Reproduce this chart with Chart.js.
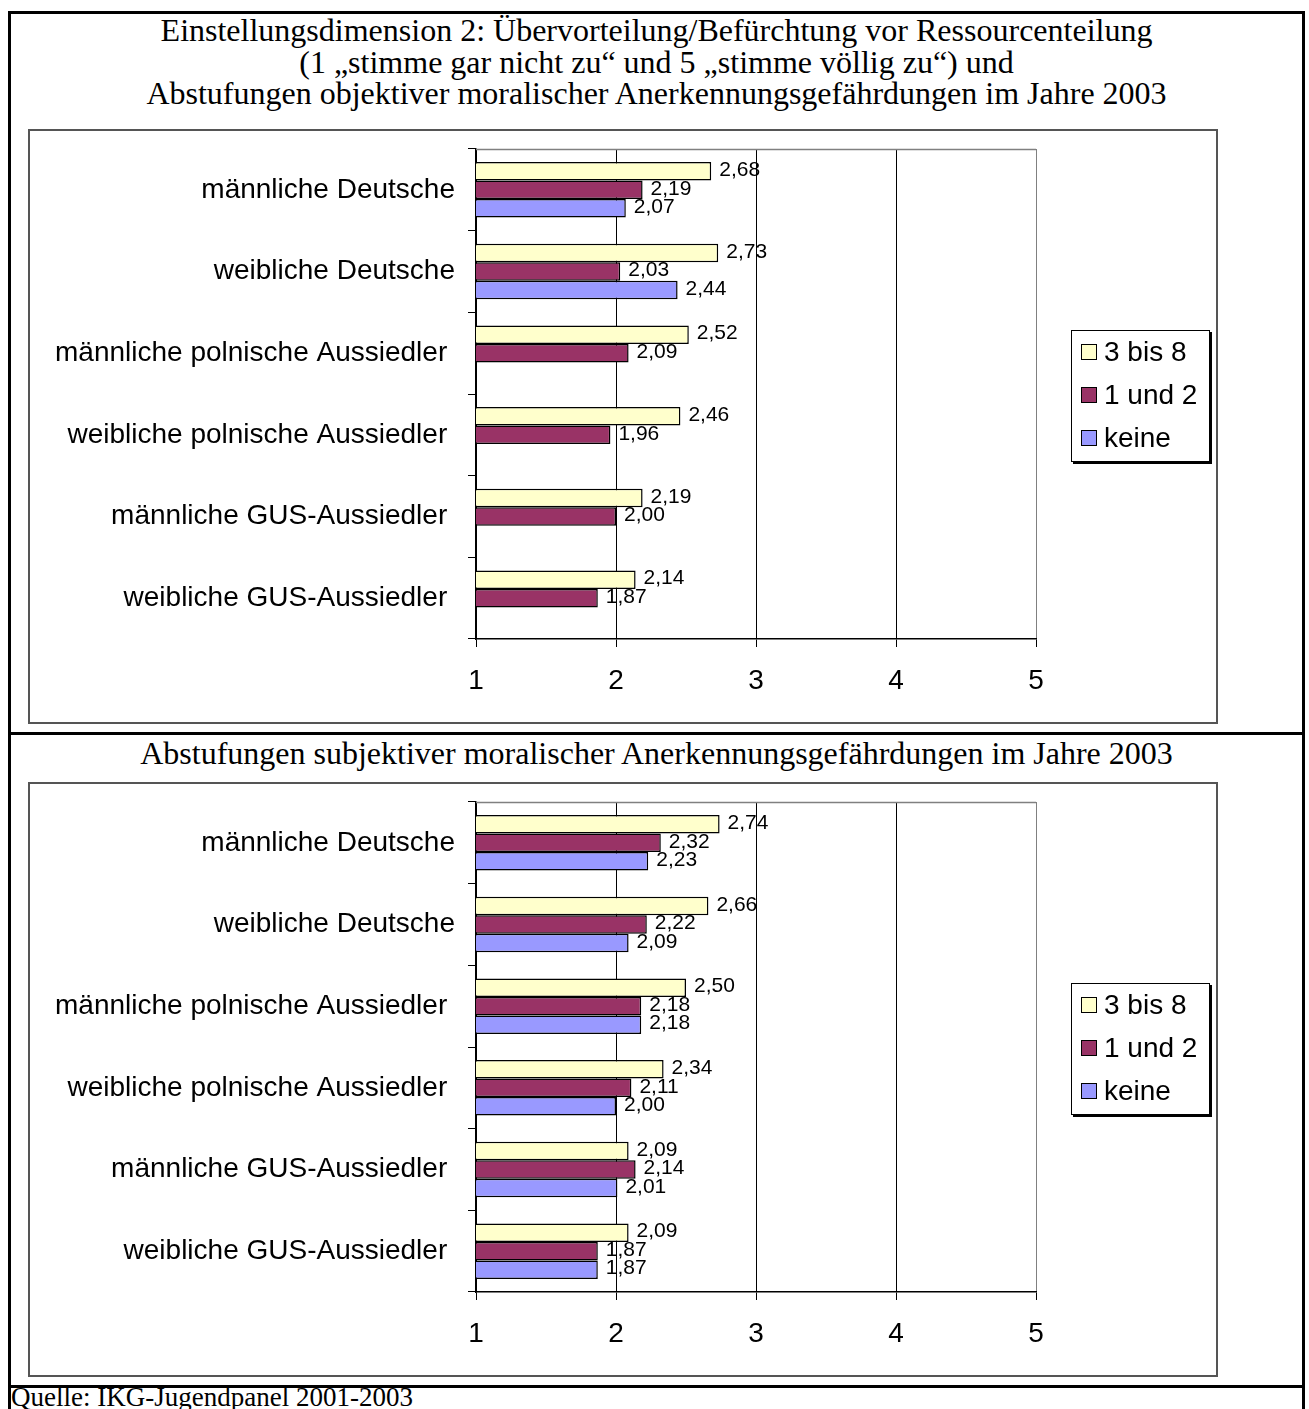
<!DOCTYPE html>
<html>
<head>
<meta charset="utf-8">
<script src="https://cdn.jsdelivr.net/npm/chart.js@4/dist/chart.umd.min.js"></script>
<style>
  html, body { margin: 0; padding: 0; background: #fff; width: 1309px; height: 1409px; overflow: hidden; }
  .rule { position: absolute; background: #000; }
  .title { position: absolute; left: 8px; width: 1297px; text-align: center; color: #000;
           font-family: "Liberation Serif", "Times New Roman", serif; font-size: 32px; line-height: 31.5px; white-space: nowrap; }
  .box { position: absolute; left: 28px; width: 1186px; height: 591px; border: 2px solid #555; }
  .box canvas { display: block; }
  .src { position: absolute; left: 11px; top: 1382px; color: #000;
         font-family: "Liberation Serif", "Times New Roman", serif; font-size: 27px; line-height: 31.5px; white-space: nowrap; }
</style>
</head>
<body>
<div class="rule" style="left:8px;top:11px;width:3px;height:1398px"></div>
<div class="rule" style="left:1302px;top:11px;width:3px;height:1398px"></div>
<div class="rule" style="left:8px;top:11px;width:1297px;height:3px"></div>
<div class="rule" style="left:8px;top:732px;width:1297px;height:3px"></div>
<div class="rule" style="left:8px;top:1385px;width:1297px;height:3px"></div>

<div class="title" style="top:15px">Einstellungsdimension 2: Übervorteilung/Befürchtung vor Ressourcenteilung<br>(1 „stimme gar nicht zu“ und 5 „stimme völlig zu“) und<br>Abstufungen objektiver moralischer Anerkennungsgefährdungen im Jahre 2003</div>
<div class="box" style="top:129px"><canvas id="chartObj" width="1186" height="591"></canvas></div>

<div class="title" style="top:738px">Abstufungen subjektiver moralischer Anerkennungsgefährdungen im Jahre 2003</div>
<div class="box" style="top:782px"><canvas id="chartSubj" width="1186" height="591"></canvas></div>

<div class="src">Quelle: IKG-Jugendpanel 2001-2003</div>

<script>
// Groups (trailing blanks keep the longer labels set back as in the layout)
const categories = [
  'männliche Deutsche',
  'weibliche Deutsche',
  'männliche polnische Aussiedler ',
  'weibliche polnische Aussiedler ',
  'männliche GUS-Aussiedler ',
  'weibliche GUS-Aussiedler '
];

const seriesNames = ['3 bis 8', '1 und 2', 'keine'];
const seriesColors = ['#FFFFCC', '#993366', '#9999FF'];

// Objective recognition threats
const objHigh = [2.68, 2.73, 2.52, 2.46, 2.19, 2.14];
const objLow  = [2.19, 2.03, 2.09, 1.96, 2.00, 1.87];
const objNone = [2.07, 2.44, null, null, null, null];

// Subjective recognition threats
const subjHigh = [2.74, 2.66, 2.50, 2.34, 2.09, 2.09];
const subjLow  = [2.32, 2.22, 2.18, 2.11, 2.14, 1.87];
const subjNone = [2.23, 2.09, 2.18, 2.00, 2.01, 1.87];

// Rating scale 1..5
const scaleMin = 1;
const scaleMax = 5;
const scaleStep = 1;

const SANS = '"Liberation Sans", Arial, sans-serif';

const fmt = v => v.toFixed(2).replace('.', ',');

const valueLabels = {
  id: 'valueLabels',
  afterDatasetsDraw(chart) {
    const ctx = chart.ctx;
    ctx.save();
    ctx.fillStyle = '#000';
    ctx.font = '21px ' + SANS;
    ctx.textAlign = 'left';
    ctx.textBaseline = 'middle';
    chart.data.datasets.forEach((ds, i) => {
      const meta = chart.getDatasetMeta(i);
      meta.data.forEach((el, j) => {
        const v = ds.data[j];
        if (v === null || v === undefined) return;
        ctx.fillText(fmt(v), el.x + 8, el.y - 1);
      });
    });
    ctx.restore();
  }
};

const plotFrame = {
  id: 'plotFrame',
  beforeDatasetsDraw(chart) {
    const { ctx, chartArea: a } = chart;
    ctx.save();
    ctx.strokeStyle = '#808080';
    ctx.lineWidth = 1.5;
    ctx.beginPath();
    ctx.moveTo(a.left, a.top + 0.5);
    ctx.lineTo(a.right, a.top + 0.5);
    ctx.stroke();
    ctx.restore();
  }
};

const boxLegend = {
  id: 'boxLegend',
  afterDraw(chart) {
    const { ctx, chartArea: a } = chart;
    const x = a.right + 35, y = a.top + 181, w = 139, h = 132;
    ctx.save();
    ctx.fillStyle = '#000';
    ctx.fillRect(x + 2, y + 2, w, h);
    ctx.fillStyle = '#fff';
    ctx.fillRect(x, y, w, h);
    ctx.strokeStyle = '#000';
    ctx.lineWidth = 1;
    ctx.strokeRect(x + 0.5, y + 0.5, w - 1, h - 1);
    ctx.font = '28px ' + SANS;
    ctx.textAlign = 'left';
    ctx.textBaseline = 'middle';
    chart.data.datasets.forEach((ds, i) => {
      const cy = y + 22 + i * 43;
      ctx.fillStyle = ds.backgroundColor;
      ctx.fillRect(x + 10, cy - 8, 16, 16);
      ctx.strokeStyle = '#000';
      ctx.strokeRect(x + 10.5, cy - 7.5, 15, 15);
      ctx.fillStyle = '#000';
      ctx.fillText(ds.label, x + 33, cy + 1);
    });
    ctx.restore();
  }
};

function makeChart(id, high, low, none) {
  const series = [high, low, none];
  return new Chart(document.getElementById(id), {
    type: 'bar',
    data: {
      labels: categories,
      datasets: series.map((d, i) => ({
        label: seriesNames[i],
        data: d,
        backgroundColor: seriesColors[i],
        borderColor: '#000',
        borderWidth: 1.5,
        borderSkipped: false,
        barPercentage: 1,
        categoryPercentage: 0.68
      }))
    },
    options: {
      indexAxis: 'y',
      responsive: false,
      animation: false,
      devicePixelRatio: 1,
      layout: { padding: { left: 0, top: 18, right: 180, bottom: 0 } },
      plugins: { legend: { display: false }, tooltip: { enabled: false } },
      scales: {
        x: {
          type: 'linear',
          min: scaleMin,
          max: scaleMax,
          ticks: { stepSize: scaleStep, color: '#000', font: { family: SANS, size: 28 }, padding: 17 },
          grid: {
            color: c => (c.tick && c.tick.value === scaleMax) ? '#808080' : '#000',
            lineWidth: 1,
            tickLength: 8,
            tickColor: '#000'
          },
          border: { display: true, color: '#000', width: 1.5 },
          afterFit(s) { s.height = 83; }
        },
        y: {
          ticks: { color: '#000', font: { family: SANS, size: 28 }, padding: 13, autoSkip: false },
          grid: { drawOnChartArea: false, drawTicks: true, tickLength: 8, color: '#000', lineWidth: 1, offset: true },
          border: { display: true, color: '#000', width: 1.5 },
          afterFit(s) { s.width = 446; s.paddingTop = 0; s.paddingBottom = 0; }
        }
      }
    },
    plugins: [plotFrame, valueLabels, boxLegend]
  });
}

makeChart('chartObj', objHigh, objLow, objNone);
makeChart('chartSubj', subjHigh, subjLow, subjNone);
</script>
</body>
</html>
